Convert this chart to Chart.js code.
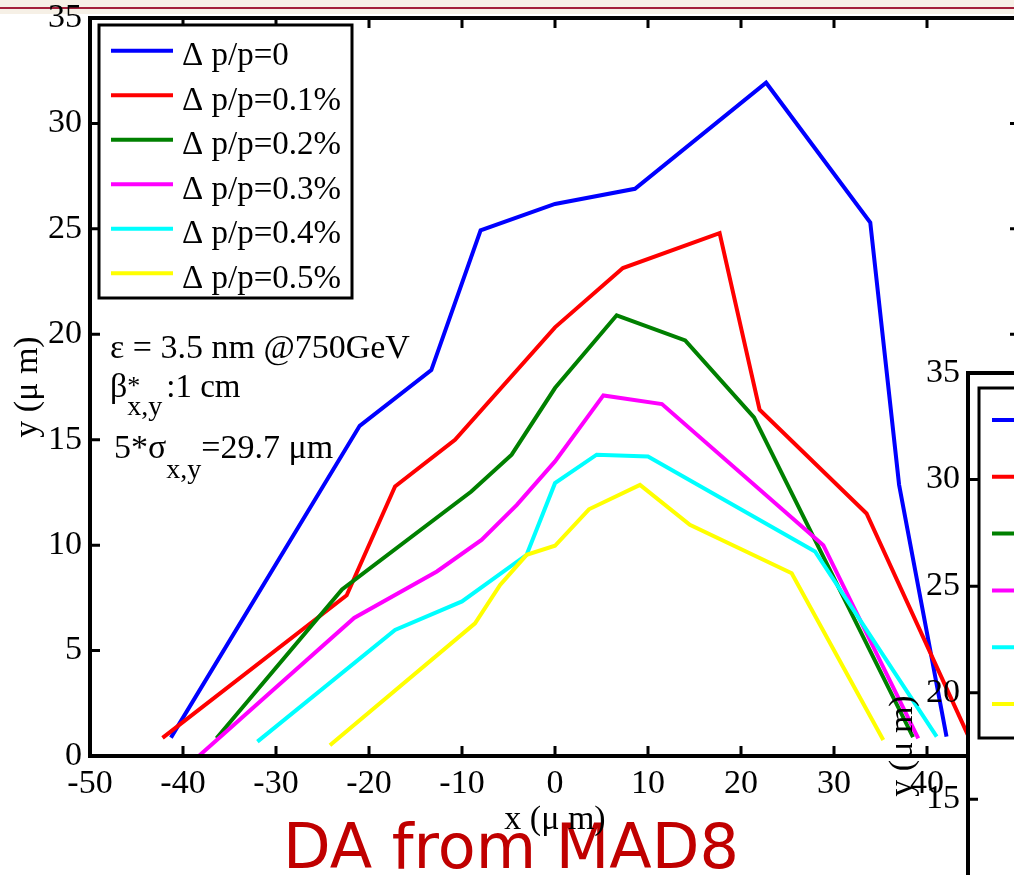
<!DOCTYPE html>
<html>
<head>
<meta charset="utf-8">
<script src="https://cdn.jsdelivr.net/npm/chart.js@4.4.1/dist/chart.umd.min.js"></script>
<style>
  html, body { margin: 0; padding: 0; background: #fff; width: 1014px; height: 875px; overflow: hidden; position: relative; }
  #band { position: absolute; left: 0; top: 0; width: 1014px; height: 14px; background: #f6f0e6; }
  #rule { position: absolute; left: 0; top: 7px; width: 1014px; height: 2px; background: #a3203a; }
  #main { position: absolute; left: 0; top: 0; width: 1040px; height: 875px; }
  #inset { position: absolute; left: 868px; top: 353px; width: 1000px; height: 900px; }
</style>
</head>
<body>
<div id="band"></div><div id="rule"></div>
<canvas id="main" width="1040" height="875"></canvas>
<canvas id="inset" width="1000" height="900"></canvas>
<script>
// series (x, y in micrometres)
const seriesLabels = ['Δ p/p=0', 'Δ p/p=0.1%', 'Δ p/p=0.2%', 'Δ p/p=0.3%', 'Δ p/p=0.4%', 'Δ p/p=0.5%'];
const seriesColors = ['#0000ff', '#ff0000', '#008000', '#ff00ff', '#00ffff', '#ffff00'];

const dp0X = [-41.3, -21.0, -13.3, -8.0, 0, 8.6, 22.7, 33.9, 37.0, 42.1];
const dp0Y = [0.87, 15.66, 18.3, 24.93, 26.18, 26.9, 31.93, 25.3, 12.86, 0.92];
const dp1X = [-42.2, -22.4, -17.2, -10.75, 0, 7.3, 17.7, 22.0, 33.5, 44.6];
const dp1Y = [0.86, 7.62, 12.78, 15.0, 20.33, 23.14, 24.8, 16.42, 11.5, 0.8];
const dp2X = [-36.4, -22.9, -9.0, -4.66, 0, 6.63, 14.0, 21.4, 38.5];
const dp2Y = [0.84, 7.9, 12.54, 14.29, 17.45, 20.9, 19.71, 16.06, 0.9];
const dp3X = [-38.3, -21.6, -12.7, -7.9, -4.1, 0, 5.2, 11.5, 28.85, 39.06];
const dp3Y = [0.0, 6.55, 8.75, 10.25, 11.91, 13.97, 17.1, 16.69, 10.0, 0.84];
const dp4X = [-32.0, -17.2, -10.0, -3.05, 0, 4.48, 10.0, 27.96, 41.04];
const dp4Y = [0.68, 5.98, 7.33, 9.54, 12.94, 14.29, 14.2, 9.7, 0.92];
const dp5X = [-24.2, -8.6, -5.9, -3.05, 0, 3.65, 9.14, 14.5, 25.45, 35.3];
const dp5Y = [0.51, 6.29, 8.11, 9.54, 9.97, 11.7, 12.86, 10.96, 8.67, 0.76];

const seriesX = [dp0X, dp1X, dp2X, dp3X, dp4X, dp5X];
const seriesY = [dp0Y, dp1Y, dp2Y, dp3Y, dp4Y, dp5Y];

const xRange = [-50, 50];
const yRange = [0, 35];
const xStep = 10;
const yStep = 5;

const noteLine1 = 'ε = 3.5 nm @750GeV';
const footer = 'DA from MAD8';

const SERIF = '"Liberation Serif", "Times New Roman", serif';
Chart.defaults.font.family = SERIF;
Chart.defaults.color = '#000';

function zip(xs, ys) {
  return xs.map((v, i) => ({ x: v, y: ys[i] }));
}

function makeDatasets(withData) {
  return seriesLabels.map((lab, i) => ({
    label: lab,
    data: withData ? zip(seriesX[i], seriesY[i]) : [],
    borderColor: seriesColors[i],
    backgroundColor: seriesColors[i],
    borderWidth: 4,
    showLine: true,
    pointRadius: 0,
    order: -i
  }));
}

// matlab style box with inward ticks
const boxPlugin = {
  id: 'matBox',
  beforeDraw(chart, args, o) {
    const { ctx, chartArea: a } = chart;
    if (o.fill) {
      ctx.save();
      ctx.fillStyle = o.fill;
      ctx.fillRect(a.left, a.top, a.right - a.left, a.bottom - a.top);
      ctx.restore();
    }
  },
  afterDraw(chart, args, o) {
    const { ctx, chartArea: a, scales } = chart;
    const x = scales.x, y = scales.y;
    ctx.save();
    ctx.strokeStyle = '#000';
    ctx.lineWidth = 3;
    ctx.beginPath();
    x.ticks.forEach(t => {
      const px = x.getPixelForValue(t.value);
      ctx.moveTo(px, a.bottom); ctx.lineTo(px, a.bottom - 10);
      ctx.moveTo(px, a.top); ctx.lineTo(px, a.top + 10);
    });
    y.ticks.forEach(t => {
      const py = y.getPixelForValue(t.value);
      ctx.moveTo(a.left, py); ctx.lineTo(a.left + 10, py);
      ctx.moveTo(a.right, py); ctx.lineTo(a.right - 10, py);
    });
    ctx.stroke();
    ctx.lineWidth = 4;
    ctx.strokeRect(a.left, a.top, a.right - a.left, a.bottom - a.top);
    ctx.restore();
  }
};

const legendPlugin = {
  id: 'boxLegend',
  afterDraw(chart, args, o) {
    const { ctx, chartArea: a } = chart;
    const bx = a.left + o.dx, by = a.top + o.dy;
    ctx.save();
    ctx.fillStyle = '#fff';
    ctx.fillRect(bx, by, o.w, o.h);
    ctx.lineWidth = 3;
    ctx.strokeStyle = '#000';
    ctx.strokeRect(bx, by, o.w, o.h);
    ctx.font = o.size + 'px ' + SERIF;
    ctx.textBaseline = 'alphabetic';
    chart.data.datasets.forEach((ds, i) => {
      const ly = by + o.first + i * o.step;
      ctx.strokeStyle = ds.borderColor;
      ctx.lineWidth = 4;
      ctx.beginPath();
      ctx.moveTo(bx + o.lineFrom, ly);
      ctx.lineTo(bx + o.lineTo, ly);
      ctx.stroke();
      ctx.fillStyle = '#000';
      ctx.fillText(ds.label, bx + o.textX, ly + o.textDy);
    });
    ctx.restore();
  }
};

function richText(ctx, x, y, parts) {
  parts.forEach(p => {
    ctx.font = p.size + 'px ' + SERIF;
    ctx.fillText(p.t, x, y + (p.dy || 0));
    if (!p.keep) x += ctx.measureText(p.t).width + (p.gap || 0);
  });
}

const notesPlugin = {
  id: 'notes',
  beforeDraw(chart) {
    const { ctx } = chart;
    ctx.save();
    ctx.fillStyle = '#c00000';
    ctx.font = '62px "DejaVu Sans", sans-serif';
    ctx.textBaseline = 'alphabetic';
    ctx.fillText(footer, 283, 868);
    ctx.restore();
  },
  afterDraw(chart) {
    const { ctx, chartArea: a } = chart;
    const x0 = a.left + 20;
    ctx.save();
    ctx.fillStyle = '#000';
    ctx.textBaseline = 'alphabetic';
    richText(ctx, x0, a.top + 340, [{ t: noteLine1, size: 34 }]);
    richText(ctx, x0, a.top + 379, [
      { t: 'β', size: 34 },
      { t: '*', size: 26, dy: -3, keep: true },
      { t: 'x,y', size: 28, dy: 18, gap: 4 },
      { t: ':1 cm', size: 33 }
    ]);
    richText(ctx, x0 + 4, a.top + 440, [
      { t: '5*σ', size: 34 },
      { t: 'x,y', size: 28, dy: 20 },
      { t: '=29.7 μm', size: 34 }
    ]);
    ctx.restore();
  }
};

function axisX(height, showTitle) {
  return {
    type: 'linear', min: xRange[0], max: xRange[1],
    ticks: { stepSize: xStep, padding: 8, color: '#000', font: { size: 34 }, autoSkip: false, maxRotation: 0 },
    grid: { display: false, drawTicks: false },
    border: { display: false },
    title: { display: showTitle, text: 'x (μ m)', color: '#000', font: { size: 34 }, padding: { top: 0, bottom: 35 } },
    afterFit(s) { s.height = height; s.paddingLeft = 0; s.paddingRight = 0; }
  };
}

function axisY(width, titlePad) {
  return {
    type: 'linear', min: yRange[0], max: yRange[1],
    ticks: { stepSize: yStep, padding: 8, color: '#000', font: { size: 34 } },
    grid: { display: false, drawTicks: false },
    border: { display: false },
    title: { display: true, text: 'y (μ m)', color: '#000', font: { size: 34 }, padding: { top: titlePad, bottom: 0 } },
    afterFit(s) { s.width = width; s.paddingTop = 0; s.paddingBottom = 0; }
  };
}

new Chart(document.getElementById('main'), {
  type: 'scatter',
  data: { datasets: makeDatasets(true) },
  options: {
    responsive: false,
    animation: false,
    layout: { padding: { top: 18, right: 20, bottom: 0, left: 0 } },
    plugins: {
      legend: { display: false },
      tooltip: { enabled: false },
      matBox: {},
      boxLegend: { dx: 9, dy: 7, w: 253, h: 273, first: 25.7, step: 44.5, lineFrom: 12, lineTo: 74, textX: 83, textDy: 14.5, size: 33 }
    },
    scales: { x: axisX(119, true), y: axisY(90, 8) }
  },
  plugins: [notesPlugin, boxPlugin, legendPlugin]
});

// second figure pasted over the lower right corner
new Chart(document.getElementById('inset'), {
  type: 'scatter',
  data: { datasets: makeDatasets(false) },
  options: {
    responsive: false,
    animation: false,
    layout: { padding: { top: 20, right: 0, bottom: 0, left: 0 } },
    plugins: {
      legend: { display: false },
      tooltip: { enabled: false },
      matBox: { fill: '#fff' },
      boxLegend: { dx: 11, dy: 15, w: 700, h: 350, first: 32, step: 56.8, lineFrom: 13, lineTo: 110, textX: 120, textDy: 16, size: 42 }
    },
    scales: { x: axisX(134, true), y: axisY(100, 15) }
  },
  plugins: [boxPlugin, legendPlugin]
});
</script>
</body>
</html>
